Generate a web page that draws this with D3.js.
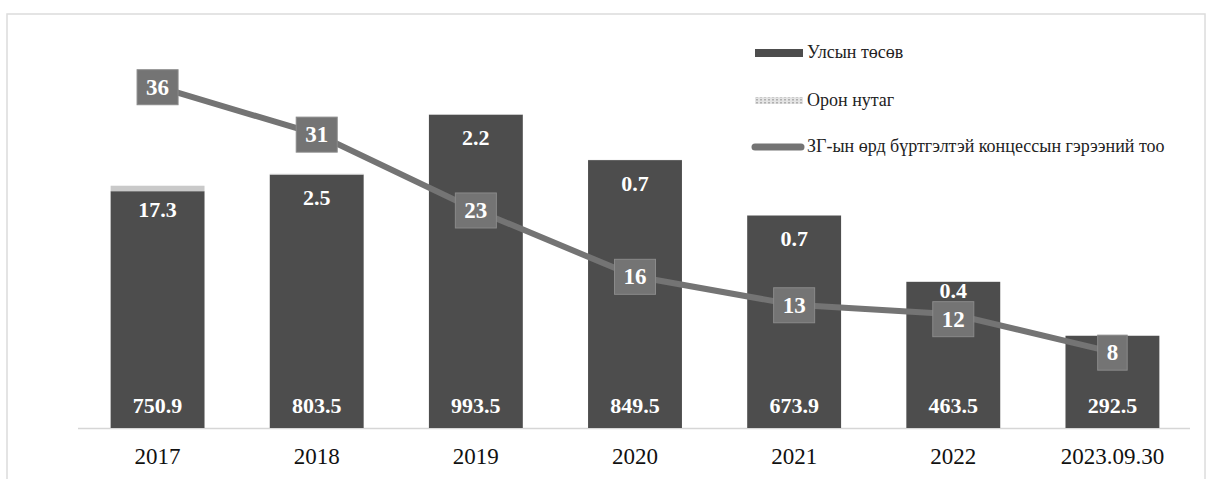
<!DOCTYPE html>
<html lang="mn">
<head>
<meta charset="UTF-8">
<title>Улсын төсөв, орон нутаг</title>
<script src="https://d3js.org/d3.v7.min.js"></script>
<style>
	body { margin: 0; background: #fff; }
	svg text { font-family: "Liberation Serif", "Times New Roman", "DejaVu Serif", serif; }
</style>
</head>
<body>
<div id="chart"></div>
<script>
	// data
	const years = ['2017', '2018', '2019', '2020', '2021', '2022', '2023.09.30']
	const stateBudget = [750.9, 803.5, 993.5, 849.5, 673.9, 463.5, 292.5]
	const localBudget = [17.3, 2.5, 2.2, 0.7, 0.7, 0.4, null]
	const contracts = [36, 31, 23, 16, 13, 12, 8]
	const legendLabels = ['Улсын төсөв', 'Орон нутаг', 'ЗГ-ын өрд бүртгэлтэй концессын гэрээний тоо']

	const width = 1212, height = 479
	const baseY = 428, topY = 18
	const serif = '"Liberation Serif", "Times New Roman", serif'

	const svg = d3.select('#chart').append('svg').attr('width', width).attr('height', height)
		.attr('font-family', serif)

	const defs = svg.append('defs')
	const pat = defs.append('pattern').attr('id', 'dots').attr('patternUnits', 'userSpaceOnUse')
		.attr('width', 4).attr('height', 3)
	pat.append('rect').attr('width', 4).attr('height', 3).attr('fill', '#e4e4e4')
	pat.append('rect').attr('width', 2).attr('height', 1.5).attr('fill', '#b0b0b0')

	// frame of the scanned figure
	svg.append('rect').attr('x', 7).attr('y', 14).attr('width', 1198).attr('height', 480)
		.attr('fill', 'none').attr('stroke', '#dcdcdc').attr('stroke-width', 1.5)

	const x = d3.scaleBand().domain(years).range([78, 1192]).paddingInner(0.41).paddingOuter(0.205)
	const y = d3.scaleLinear().domain([0, 1300]).range([baseY, topY])
	const yLine = d3.scaleLinear().domain([0, 43.25]).range([baseY, topY])

	const barColor = '#4d4d4d'
	const localColor = '#c9c9c9'
	const lineColor = '#747474'

	// baseline
	svg.append('line').attr('x1', 78).attr('x2', 1190).attr('y1', baseY + 0.5).attr('y2', baseY + 0.5)
		.attr('stroke', '#d6d6d6').attr('stroke-width', 1.5)

	const bars = svg.append('g')
	years.forEach((yr, i) => {
		const s = stateBudget[i], l = localBudget[i] || 0
		bars.append('rect')
			.attr('x', x(yr)).attr('width', x.bandwidth())
			.attr('y', y(s)).attr('height', baseY - y(s))
			.attr('fill', barColor)
		if (l > 0) {
			bars.append('rect')
				.attr('x', x(yr)).attr('width', x.bandwidth())
				.attr('y', y(s + l)).attr('height', y(s) - y(s + l))
				.attr('fill', localColor)
		}
	})

	// value labels in bars
	const labels = svg.append('g').attr('fill', '#fff').attr('font-weight', 'bold')
		.attr('font-size', 22).attr('text-anchor', 'middle').attr('font-family', serif)
	const topLabelY = []
	years.forEach((yr, i) => {
		const cx = x(yr) + x.bandwidth() / 2
		labels.append('text').attr('x', cx).attr('y', baseY - 15).text(stateBudget[i].toFixed(1))
		if (localBudget[i] != null) {
			const top = y(stateBudget[i] + localBudget[i])
			const off = baseY - top < 200 ? 16 : 31
			topLabelY[i] = top + off
			labels.append('text').attr('x', cx).attr('y', top + off).text(localBudget[i].toFixed(1))
		}
	})

	// contracts line
	const line = d3.line().x((d, i) => x(years[i]) + x.bandwidth() / 2).y(d => yLine(d))
	svg.append('path').datum(contracts).attr('d', line)
		.attr('fill', 'none').attr('stroke', lineColor).attr('stroke-width', 6)

	const marks = svg.append('g').attr('font-family', serif)
	contracts.forEach((v, i) => {
		const cx = x(years[i]) + x.bandwidth() / 2
		let cy = yLine(v)
		// push the box below a bar label it would cover
		if (topLabelY[i] != null && topLabelY[i] + 4 > cy - 17 && topLabelY[i] < cy + 17) {
			cy = topLabelY[i] + 4 + 17
		}
		const g = marks.append('g')
		const r = g.append('rect').attr('fill', lineColor).attr('stroke', '#8a8a8a').attr('stroke-width', 1)
		const t = g.append('text').attr('x', cx).attr('y', cy + 8).attr('text-anchor', 'middle')
			.attr('fill', '#fff').attr('font-weight', 'bold').attr('font-size', 23).text(v)
		const w = t.node().getComputedTextLength() + 18
		r.attr('x', cx - w / 2).attr('y', cy - 17).attr('width', w).attr('height', 35)
	})

	// x axis labels
	svg.append('g').attr('font-family', serif).selectAll('text').data(years).join('text')
		.attr('x', d => x(d) + x.bandwidth() / 2).attr('y', 464)
		.attr('text-anchor', 'middle').attr('font-size', 23).attr('fill', '#111')
		.text(d => d)

	// legend
	const lg = svg.append('g').attr('font-size', 18).attr('fill', '#222').attr('font-family', serif)
	lg.append('rect').attr('x', 755).attr('y', 49).attr('width', 48).attr('height', 8).attr('fill', barColor)
	lg.append('text').attr('x', 807).attr('y', 58).text(legendLabels[0])
	lg.append('rect').attr('x', 755).attr('y', 97).attr('width', 48).attr('height', 7).attr('fill', 'url(#dots)')
	lg.append('text').attr('x', 807).attr('y', 106).text(legendLabels[1])
	lg.append('line').attr('x1', 755).attr('x2', 801).attr('y1', 147).attr('y2', 147)
		.attr('stroke', lineColor).attr('stroke-width', 7).attr('stroke-linecap', 'round')
	lg.append('text').attr('x', 807).attr('y', 152).text(legendLabels[2])
</script>
</body>
</html>
